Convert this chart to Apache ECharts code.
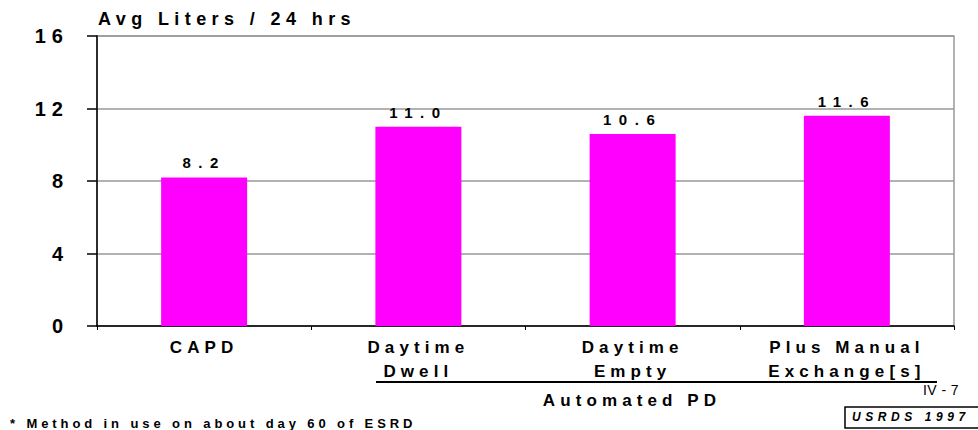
<!DOCTYPE html>
<html>
<head>
<meta charset="utf-8">
<title>Avg Liters / 24 hrs</title>
<script src="https://cdn.jsdelivr.net/npm/echarts@6/dist/echarts.min.js"></script>
<style>
  html, body { margin: 0; padding: 0; background: #fff; }
  #chart { width: 978px; height: 430px; }
  #chart text { letter-spacing: 0.3em; }
</style>
</head>
<body>
<div id="chart"></div>
<script>
// PD methods and average daily dialysate volume (liters per 24 hours)
const categories = ['CAPD', 'Daytime\nDwell', 'Daytime\nEmpty', 'Plus Manual\nExchange[s]'];
const avgLiters = [8.2, 11.0, 10.6, 11.6];
const yMin = 0;
const yMax = 16;
const yStep = 4;

const FONT = '"Liberation Sans", Arial, Helvetica, sans-serif';
const INK = '#000';

const chart = echarts.init(document.getElementById('chart'), null, { renderer: 'svg' });

chart.setOption({
  animation: false,
  backgroundColor: '#fff',
  grid: {
    left: 97, right: 24, top: 36, bottom: 104,
    show: true, borderColor: '#999', borderWidth: 1.5,
    containLabel: false, outerBoundsMode: 'none'
  },
  xAxis: {
    type: 'category',
    data: categories,
    axisLine: { lineStyle: { color: INK, width: 1.5 } },
    axisTick: { show: true, length: 4, lineStyle: { color: INK, width: 1 } },
    axisLabel: {
      color: INK, fontFamily: FONT, fontWeight: 'bold', fontSize: 17,
      lineHeight: 24, margin: 9, interval: 0
    },
    splitLine: { show: false }
  },
  yAxis: {
    type: 'value',
    min: yMin, max: yMax, interval: yStep,
    axisLine: { show: true, lineStyle: { color: INK, width: 1.5 } },
    axisTick: { show: true, length: 10, lineStyle: { color: INK, width: 1.5 } },
    axisLabel: {
      color: INK, fontFamily: FONT, fontWeight: 'bold', fontSize: 20,
      margin: 28, padding: [0, 0, 7, 0]
    },
    splitLine: { show: true, lineStyle: { color: '#999', width: 1.5 } }
  },
  series: [{
    type: 'bar',
    data: avgLiters,
    barWidth: 86,
    itemStyle: { color: '#FF00FF' },
    label: {
      show: true, position: 'top', distance: 7,
      color: INK, fontFamily: FONT, fontWeight: 'bold', fontSize: 15,
      formatter: p => p.value.toFixed(1)
    }
  }],
  graphic: [
    {
      type: 'text', left: 98, top: 10,
      style: { text: 'Avg Liters / 24 hrs', fill: INK, font: 'bold 18px ' + FONT }
    },
    {
      type: 'line',
      shape: { x1: 376, y1: 382, x2: 937, y2: 382 },
      style: { stroke: INK, lineWidth: 2 }
    },
    {
      type: 'text', x: 632, y: 400,
      style: { text: 'Automated PD', fill: INK, font: 'bold 17px ' + FONT, textAlign: 'center', textVerticalAlign: 'middle' }
    },
    {
      type: 'text', x: 959, y: 390,
      style: { text: 'IV - 7', fill: INK, font: '14px ' + FONT, textAlign: 'right', textVerticalAlign: 'middle' }
    },
    {
      type: 'rect',
      shape: { x: 845, y: 407, width: 150, height: 21 },
      style: { fill: 'none', stroke: INK, lineWidth: 1.5 }
    },
    {
      type: 'text', x: 852, y: 417,
      style: { text: 'USRDS 1997', fill: INK, font: 'italic bold 12px ' + FONT, textAlign: 'left', textVerticalAlign: 'middle' }
    },
    {
      type: 'text', x: 10, y: 423,
      style: { text: '* Method in use on about day 60 of ESRD', fill: INK, font: 'bold 13px ' + FONT, textAlign: 'left', textVerticalAlign: 'middle' }
    }
  ]
});

// Per-text tracking: wide-set value labels, plain page number, slightly wider footer tag
function applyTracking() {
  document.querySelectorAll('#chart text').forEach(t => {
    const s = t.textContent;
    if (/^\d+\.\d$/.test(s)) t.style.letterSpacing = '0.5em';
    else if (s === 'IV - 7') t.style.letterSpacing = '0.03em';
    else if (s === 'USRDS 1997') t.style.letterSpacing = '0.38em';
  });
}
chart.on('finished', applyTracking);
applyTracking();
requestAnimationFrame(applyTracking);
</script>
</body>
</html>
